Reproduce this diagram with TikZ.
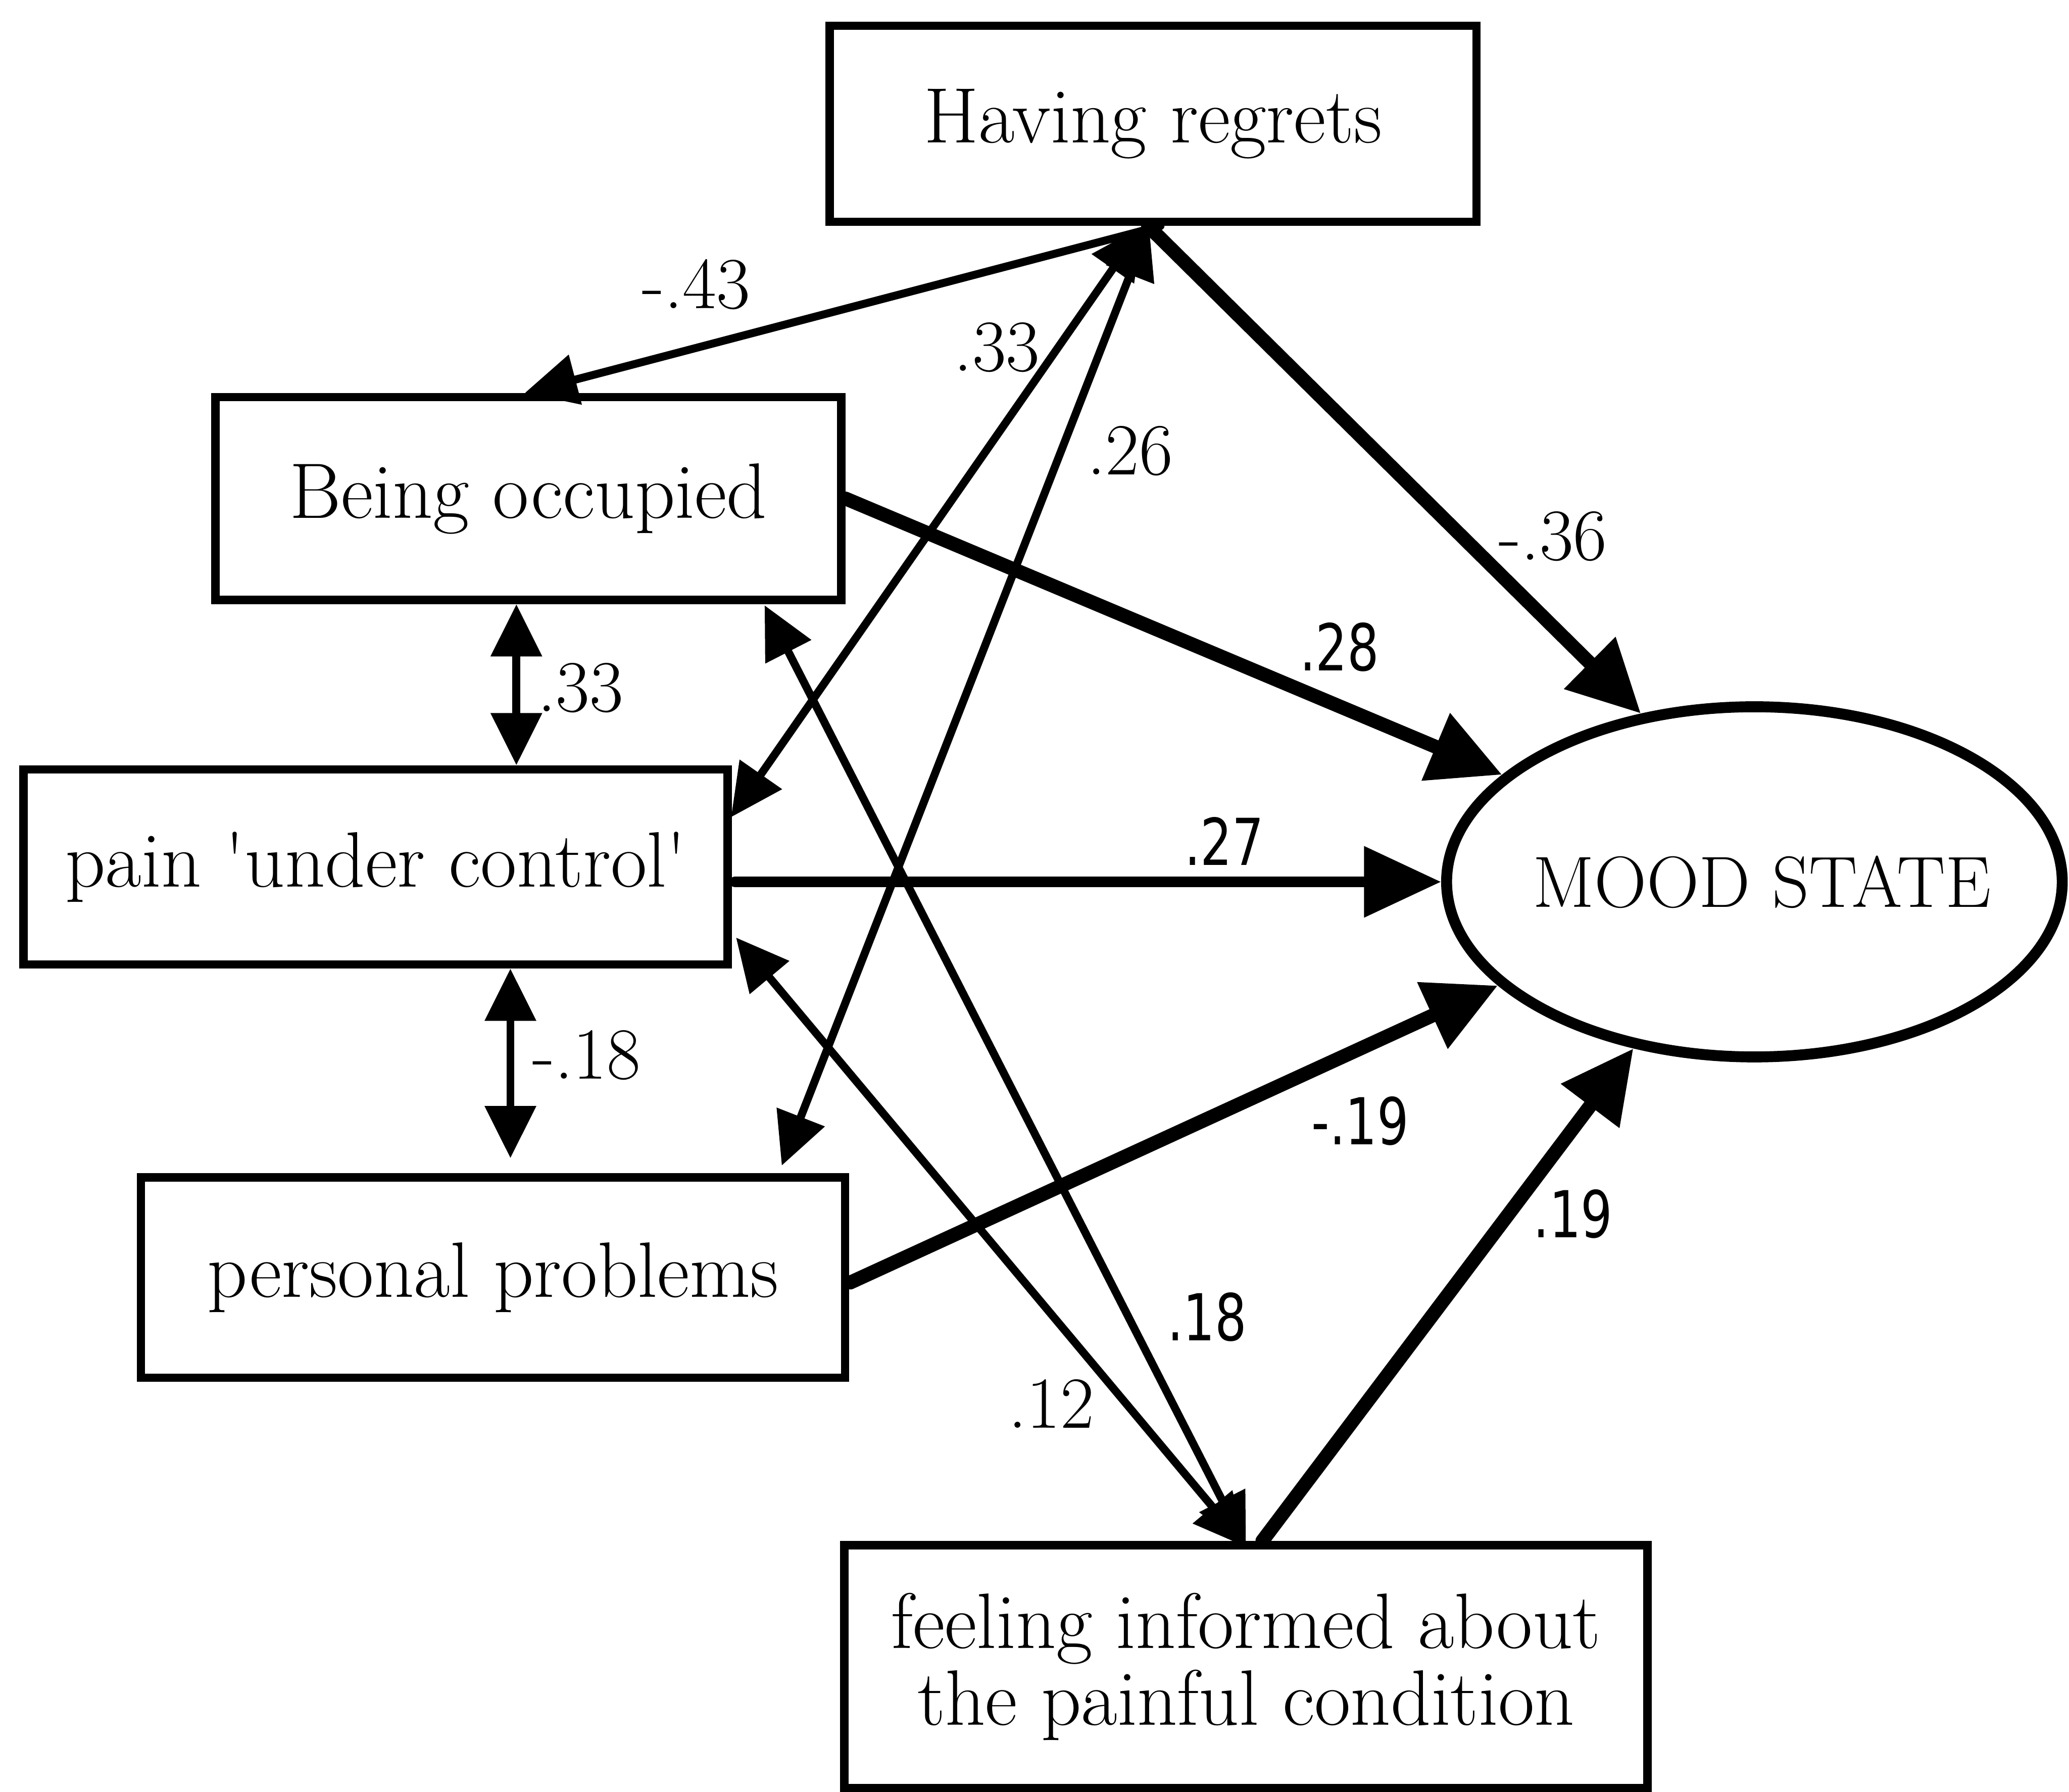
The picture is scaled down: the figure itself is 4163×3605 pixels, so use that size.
\documentclass[tikz,border=0pt]{standalone}
\usepackage{fontspec}
\newfontfamily\numsans[FakeStretch=0.77]{DejaVu Sans}
\usetikzlibrary{arrows.meta,shapes.geometric,calc}

\begin{document}
\begin{tikzpicture}[x=0.01cm,y=-0.01cm,
  box/.style={draw,rectangle,line width=0.17cm,inner sep=0pt,align=center,
    font=\fontsize{45}{44}\selectfont\addfontfeature{FakeBold=1.5}},
  outcome/.style={draw,ellipse,line width=0.22cm,inner sep=0pt},
  outcometext/.style={font=\fontsize{41.5}{44}\selectfont\addfontfeature{FakeBold=1.5}},
  thinline/.style={line width=0.16cm,line cap=round},
  midline/.style={line width=0.22cm,line cap=round},
  thickline/.style={line width=0.28cm,line cap=round},
  smallhead/.tip={Triangle[length=1.05cm,width=1.0cm]},
  midhead/.tip={Triangle[length=1.55cm,width=1.38cm]},
  bighead/.tip={Triangle[length=1.45cm,width=1.4cm]},
  coefS/.style={font=\fontsize{42}{46}\selectfont\addfontfeature{FakeStretch=0.84,FakeBold=1}},
  coefA/.style={font=\numsans\fontsize{37}{42}\selectfont}
]
\useasboundingbox (0,0) rectangle (4163,3605);

% variables
\node[box,minimum width=13.01cm,minimum height=3.94cm] (HR) at (2320,249) {Having regrets};
\node[box,minimum width=12.59cm,minimum height=4.08cm] (BO) at (1063,1003) {Being occupied};
\node[box,minimum width=14.16cm,minimum height=3.92cm] (PUC) at (756,1744)
  {pain \textquotesingle under control\textquotesingle};
\node[box,minimum width=14.16cm,minimum height=4.03cm] (PP) at (992,2570) {personal problems};
\node[box,minimum width=16.15cm,minimum height=4.89cm] (FI) at (2507,3353)
  {feeling informed about\\the painful condition};
\node[outcome,minimum width=12.38cm,minimum height=7.04cm] (MS) at (3530,1774) {};
\node[outcometext] (MStext) at (3545,1774) {MOOD STATE};

% paths to the outcome
\draw[thickline,-bighead] ($(HR.south)+(-10,0)$) -- (MS.124);
\draw[thickline,-bighead] (BO.east) -- (MS.157);
\coordinate (pucOut) at (PUC.east |- MS.west);
\draw[midline,-midhead] ($(pucOut)+(6,0)$) -- (MS.west);
\draw[thickline,-bighead] ($(PP.east)+(2,10)$) -- (MS.202);
\draw[thickline,-bighead] ($(FI.north)+(33,0)$) -- (MS.234);

% relations among the predictors
\draw[thinline,-smallhead] ($(HR.south)+(15,0)$) -- ($(BO.north)+(-7,0)$);
\draw[thinline,smallhead-smallhead] ($(HR.south)+(-21,0)$) -- ($(PUC.east)+(-2,-100)$);
\draw[thinline,smallhead-smallhead] ($(HR.south)+(-8,0)$) -- ($(PP.north east)+(-136,-15)$);
\draw[thinline,smallhead-smallhead] ($(BO.south east)+(-163,2)$) -- ($(FI.north)+(0,12)$);
\draw[thinline,smallhead-smallhead] ($(PUC.east)+(8,142)$) -- ($(FI.north)+(0,12)$);
\coordinate (bpTop) at ($(BO.south)+(-24,0)$);
\draw[thinline,smallhead-smallhead] (bpTop) -- (bpTop |- PUC.north);
\coordinate (ppTop) at ($(PUC.south)+(271,0)$);
\draw[thinline,smallhead-smallhead] (ppTop) -- ($(ppTop |- PP.north)+(0,-30)$);

% coefficients
\node[coefS] (c43) at (1401,572) {-.43};
\node[coefS] (c33a) at (2006,699) {.33};
\node[coefS] (c26) at (2274,907) {.26};
\node[coefS] (c36) at (3125,1079) {-.36};
\node[coefA] (c28) at (2695,1302) {.28};
\node[coefS] (c33b) at (1168,1384) {.33};
\node[coefA] (c27) at (2463,1692) {.27};
\node[coefS] (c18a) at (1180,2123) {-.18};
\node[coefA] (c19a) at (2737,2255) {-.19};
\node[coefA] (c19b) at (3165,2442) {.19};
\node[coefA] (c18b) at (2429,2649) {.18};
\node[coefS] (c12) at (2115,2824) {.12};
\end{tikzpicture}
\end{document}
